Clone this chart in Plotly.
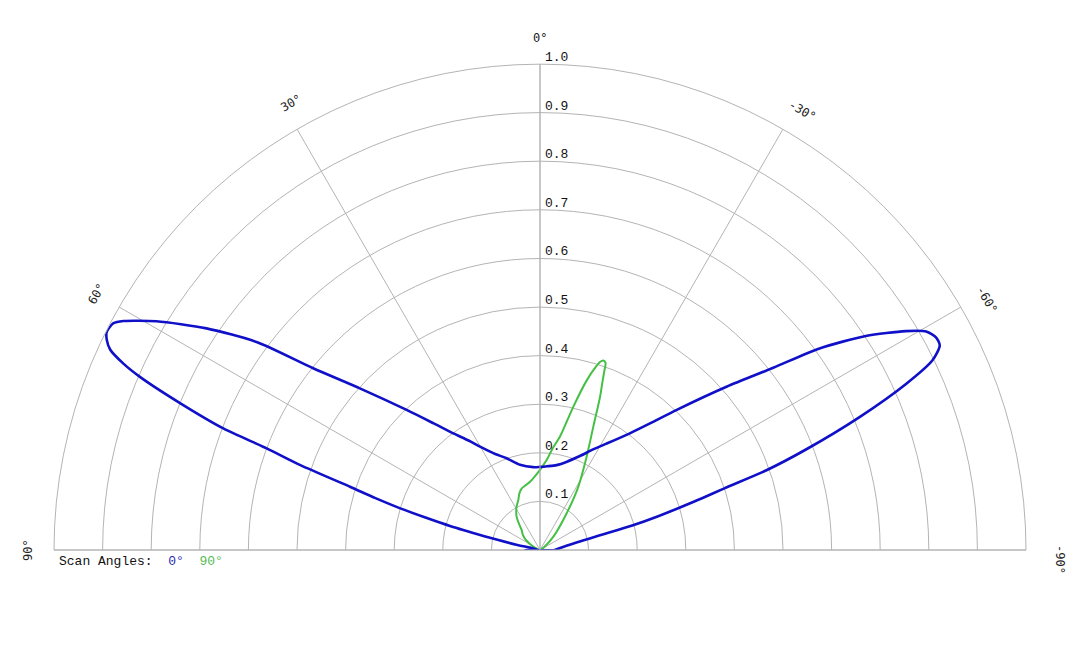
import math
import plotly.graph_objects as go

# ---- data ----
theta_blue = [90, 80, 77.5, 76.5, 76, 75.1, 74.2, 73.4, 72.5, 71.6, 70.5, 69.6, 69.0,
              67.8, 66.6, 65.9, 65.0, 64.1, 63.3, 62.0, 61.2, 59.2, 56.4, 53.7,
              51.3, 48.1, 43.6, 40, 36.6, 33, 30.1, 25, 20, 13.2, 4.6, 0, -5, -11.1,
              -17, -23, -28, -32, -37.6, -41, -44.3, -48.8, -52, -54.2, -56.7, -59.1,
              -60.5, -61.8, -62.9, -64.2, -65.6, -67.4, -69.3, -70.6, -71.5, -72.3,
              -73.1, -74.1, -75.1, -76, -76.9, -78.5, -81, -85, -90]
r_blue = [0.03, 0.005, 0.05, 0.09, 0.12, 0.19, 0.245, 0.30, 0.355, 0.411, 0.523, 0.60,
          0.698, 0.80, 0.897, 0.939, 0.976, 0.991, 0.998, 0.994, 0.978, 0.919, 0.824,
          0.722, 0.598, 0.498, 0.398, 0.34, 0.299, 0.268, 0.246, 0.218, 0.201,
          0.180, 0.171, 0.171, 0.173, 0.178, 0.19, 0.21, 0.235, 0.258, 0.303, 0.345,
          0.403, 0.51, 0.609, 0.709, 0.802, 0.877, 0.913, 0.925, 0.924, 0.897, 0.827,
          0.713, 0.585, 0.494, 0.40, 0.35, 0.301, 0.25, 0.198, 0.14, 0.105, 0.075,
          0.055, 0.04, 0.03]

theta_green = [90, 70, 63.6, 55, 48, 42.5, 38, 35, 29, 23.5, 20, 16.5, 12, 8.3, 4, 0,
               -4.3, -7, -10, -13.1, -15.4, -17, -17.7, -18.5, -19.3, -19.8, -20.5,
               -21.4, -23.4, -26.6, -31.2, -36, -45, -55, -90]
r_green = [0, 0.005, 0.015, 0.035, 0.048, 0.056, 0.072, 0.084, 0.10, 0.112, 0.124,
           0.132, 0.137, 0.142, 0.152, 0.165, 0.186, 0.21, 0.237, 0.303, 0.362, 0.395,
           0.406, 0.411, 0.408, 0.39, 0.365, 0.339, 0.276, 0.214, 0.152, 0.093, 0.039,
           0.01, 0]

radial_ticks = [0.1, 0.2, 0.3, 0.4, 0.5, 0.6, 0.7, 0.8, 0.9, 1.0]
radial_labels = ["0.1", "0.2", "0.3", "0.4", "0.5", "0.6", "0.7", "0.8", "0.9", "1.0"]
angle_ticks = [90, 60, 30, 0, -30, -60, -90]
angle_labels = ["90°", "60°", "30°", "0°", "-30°", "-60°", "-90°"]

series_names = ["0°", "90°"]
BLUE = "#1010c8"
GREEN = "#44c044"
GRID = "#b4b4b4"

# page has an 8px body margin: draw on a 1072x640 canvas, shifted by 8px
OFF = 8
W, H = 1080 - OFF, 648 - OFF
# polar half-disk box in screen pixels
X0, X1 = 54 - OFF, 1026 - OFF
YT, YB = 64 - OFF, 550 - OFF
CX = (X0 + X1) / 2
RPX = (X1 - X0) / 2

fig = go.Figure()
fig.add_trace(go.Scatterpolar(r=r_green, theta=theta_green, mode="lines",
                              line=dict(color=GREEN, width=2, shape="spline",
                                        smoothing=0.7),
                              name=series_names[1]))
# the 0° pattern is drawn as a closed outline (back across the base line)
fig.add_trace(go.Scatterpolar(r=r_blue + r_blue[:1], theta=theta_blue + theta_blue[:1],
                              mode="lines",
                              line=dict(color=BLUE, width=2.6, shape="spline",
                                        smoothing=0.7),
                              name=series_names[0]))

annotations = []
# angular labels, tangential to the outer ring
angle_nudge = {90: 0.0, 60: 0.0, 30: -0.9, 0: 0.0, -30: -0.9, -60: -0.8, -90: -1.1}
for a, lab in zip(angle_ticks, angle_labels):
    rad = math.radians(a + angle_nudge[a])
    dist = RPX + 26 + (8 if a == -90 else 0)
    px = CX - dist * math.sin(rad)
    py = YB - dist * math.cos(rad)
    annotations.append(dict(
        x=px / W, y=1 - py / H, xref="paper", yref="paper", text=lab,
        showarrow=False, textangle=-a, xanchor="center", yanchor="middle",
        font=dict(family="DejaVu Sans Mono", size=12, color="#222")))

# radial labels along the 0° spoke
for v, lab in zip(radial_ticks, radial_labels):
    py = YB - v * RPX - 6.5
    annotations.append(dict(
        x=(CX + 3) / W, y=1 - py / H, xref="paper", yref="paper", text=lab,
        showarrow=False, xanchor="left", yanchor="middle",
        font=dict(family="Liberation Mono", size=13, color="#111")))

annotations.append(dict(
    x=(57 - OFF) / W, y=1 - (561 - OFF) / H, xref="paper", yref="paper",
    xanchor="left", yanchor="middle", showarrow=False,
    text=("Scan Angles:\u00a0\u00a0<span style='color:%s'>%s</span>\u00a0\u00a0"
          "<span style='color:%s'>%s</span>") % ("#2a2ab0", series_names[0],
                                                  "#55bb55", series_names[1]),
    font=dict(family="Liberation Mono", size=13, color="#111")))

fig.update_layout(
    width=W, height=H,
    margin=dict(l=0, r=0, t=0, b=0),
    paper_bgcolor="white",
    showlegend=False,
    polar=dict(
        sector=[0, 180],
        bgcolor="white",
        domain=dict(x=[X0 / W, X1 / W], y=[1 - YB / H, 1 - YT / H]),
        angularaxis=dict(
            rotation=90, direction="counterclockwise", thetaunit="degrees",
            tickmode="array", tickvals=angle_ticks, showticklabels=False,
            ticks="", showgrid=True, gridcolor=GRID, gridwidth=1,
            showline=True, linecolor=GRID, linewidth=1),
        radialaxis=dict(
            range=[0, 1], angle=90, tickmode="array",
            tickvals=radial_ticks, showticklabels=False, ticks="",
            showgrid=True, gridcolor=GRID, gridwidth=1,
            showline=True, linecolor=GRID, linewidth=1),
    ),
    annotations=annotations,
)

fig.write_html("out.html")
